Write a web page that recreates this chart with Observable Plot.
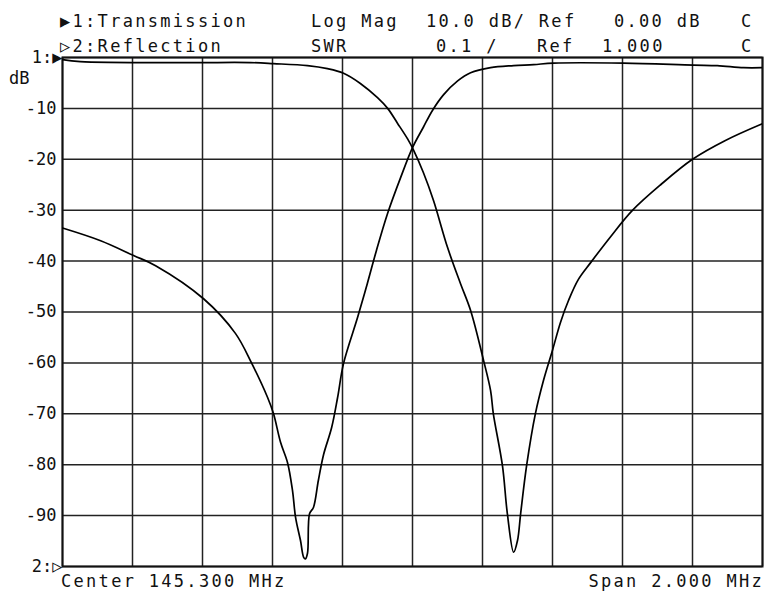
<!DOCTYPE html>
<html><head><meta charset="utf-8">
<script src="https://cdn.jsdelivr.net/npm/d3@7"></script>
<script src="https://cdn.jsdelivr.net/npm/@observablehq/plot@0.6"></script>
<style>
body{margin:0;background:#fff;}
#wrap{position:relative;width:771px;height:593px;font-family:"DejaVu Sans Mono",monospace;color:#111;overflow:hidden;}
#wrap svg{position:absolute;left:0;top:0;}
.t{position:absolute;font-size:17px;letter-spacing:2.3px;white-space:pre;line-height:1;}
</style></head><body><div id="wrap"></div>
<script>
// Trace 1: Transmission (Log Mag, dB)
const transFreq = [144.300,144.351,144.657,144.837,144.903,145.000,145.057,145.103,145.151,145.200,145.229,145.257,145.286,145.303,145.331,145.360,145.400,145.437,145.466,145.503,145.523,145.531,145.557,145.571,145.589,145.600,145.609,145.626,145.651,145.674,145.700,145.723,145.746,145.774,145.809,145.866,145.929,146.009,146.100,146.194,146.300];
const transDb   = [-0.4,-0.8,-1.0,-1.0,-1.2,-1.6,-2.2,-3.1,-5.1,-7.9,-10.0,-12.9,-16.0,-18.2,-22.6,-28.1,-37.3,-44.4,-49.7,-59.5,-65.4,-70.0,-80.2,-89.6,-97.2,-94.9,-89.6,-80.2,-70.0,-63.5,-57.5,-52.0,-47.7,-43.6,-40.3,-35.2,-30.0,-25.0,-20.0,-16.3,-13.0];
// Trace 2: Reflection (drawn on the same grid)
const reflFreq = [144.300,144.409,144.503,144.566,144.703,144.794,144.840,144.886,144.903,144.923,144.943,144.957,144.966,144.980,144.989,144.994,145.000,145.006,145.017,145.031,145.046,145.069,145.086,145.103,145.143,145.171,145.197,145.229,145.266,145.300,145.331,145.357,145.389,145.429,145.466,145.523,145.589,145.646,145.703,145.903,146.103,146.171,146.246,146.300];
const reflDb   = [-33.5,-36.0,-38.9,-40.9,-47.4,-54.2,-60.0,-66.8,-70.0,-75.6,-79.6,-85.0,-90.4,-94.9,-98.2,-98.5,-97.4,-89.6,-88.4,-83.1,-78.0,-72.7,-66.8,-60.1,-51.1,-44.4,-37.9,-30.6,-23.6,-17.7,-13.7,-10.4,-7.3,-4.6,-3.0,-2.0,-1.6,-1.4,-1.1,-1.1,-1.5,-1.6,-2.0,-2.0];
// Grid / tick values
const freqTicks = [144.3,144.5,144.7,144.9,145.1,145.3,145.5,145.7,145.9,146.1,146.3];
const dbTicks = [0,-10,-20,-30,-40,-50,-60,-70,-80,-90,-100];
const dbLabels = ["1:\u25B6","-10","-20","-30","-40","-50","-60","-70","-80","-90","2:\u25B7"];

const trans = transFreq.map((f,i)=>({f, db: transDb[i]}));
const refl = reflFreq.map((f,i)=>({f, db: reflDb[i]}));

const chart = Plot.plot({
  width: 771, height: 593,
  marginTop: 57, marginBottom: 27, marginLeft: 62, marginRight: 9,
  x: {domain: [144.3, 146.3], axis: null},
  y: {domain: [-100, 0], label: null},
  style: {fontFamily: "DejaVu Sans Mono", fontSize: "17px", color: "#111", background: "#fff"},
  marks: [
    Plot.ruleX(freqTicks, {stroke: "#222", strokeWidth: 1.5}),
    Plot.ruleY(dbTicks, {stroke: "#222", strokeWidth: 1.5}),
    Plot.frame({stroke: "#111", strokeWidth: 2}),
    Plot.line(trans, {x: "f", y: "db", stroke: "#000", strokeWidth: 1.7, curve: "catmull-rom", clip: true}),
    Plot.line(refl, {x: "f", y: "db", stroke: "#000", strokeWidth: 1.7, curve: "catmull-rom", clip: true}),
    Plot.axisY(dbTicks.slice(1, -1), {tickSize: 0, tickPadding: 6, fontSize: 17, fill: "#111", label: null,
      tickFormat: d => dbLabels[dbTicks.indexOf(d)]}),
    Plot.axisY([0, -100], {tickSize: 0, tickPadding: 0, fontSize: 17, fill: "#111", label: null,
      tickFormat: d => dbLabels[dbTicks.indexOf(d)]})
  ]
});
const wrap = document.getElementById("wrap");
wrap.appendChild(chart);

const texts = [
  ["\u25B61:Transmission", 60, 13],
  ["\u25B72:Reflection", 60, 38],
  ["Log Mag", 311, 13],
  ["10.0 dB/ Ref", 426, 13],
  ["0.00 dB", 614, 13],
  ["C", 741, 13],
  ["SWR", 311, 38],
  ["0.1 /", 436, 38],
  ["Ref", 537, 38],
  ["1.000", 602, 38],
  ["C", 741, 38],
  ["Center 145.300 MHz", 61, 573]
];
for (const [s, x, y] of texts) {
  const d = document.createElement("div");
  d.className = "t"; d.textContent = s;
  d.style.left = x + "px"; d.style.top = y + "px";
  wrap.appendChild(d);
}
const span = document.createElement("div");
span.className = "t"; span.textContent = "Span 2.000 MHz";
span.style.right = "7px"; span.style.top = "573px";
wrap.appendChild(span);
const db = document.createElement("div");
db.className = "t"; db.textContent = "dB"; db.style.letterSpacing = "0px";
db.style.left = "9px"; db.style.top = "70px";
wrap.appendChild(db);
</script></body></html>
